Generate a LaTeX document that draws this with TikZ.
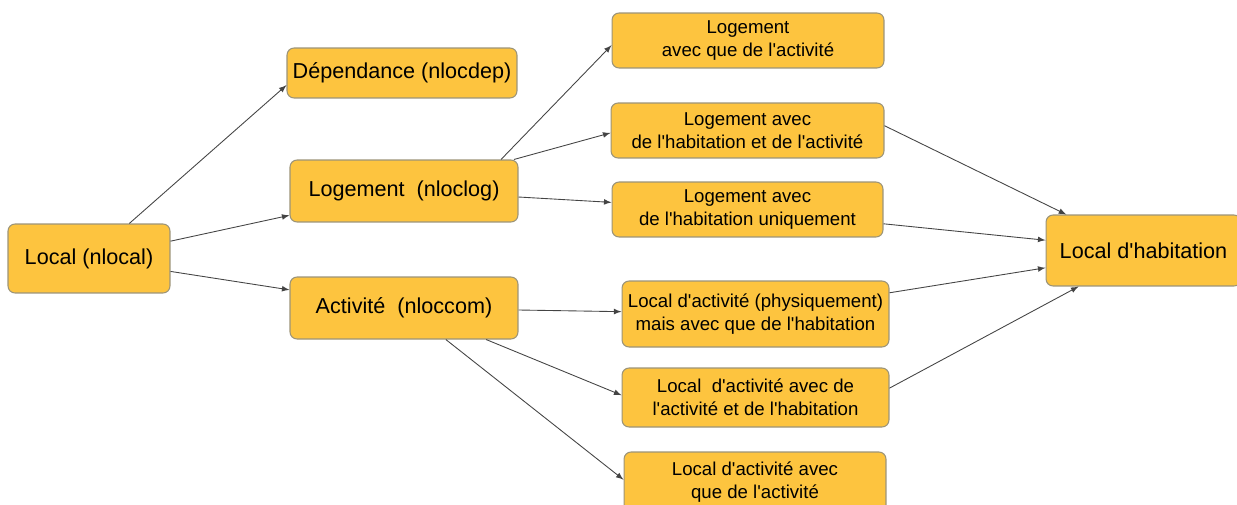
\documentclass[tikz,border=0pt]{standalone}
\usepackage{fontspec}
\setmainfont{Liberation Sans}[Ligatures=TeXOff]
\definecolor{boxfill}{HTML}{FDC43F}
\definecolor{boxline}{HTML}{9C9478}
\definecolor{arrowgray}{HTML}{444444}
\tikzset{
  bigbox/.style={draw=boxline, fill=boxfill, rounded corners=4pt, line width=0.6pt,
    font=\fontsize{12.3}{15}\selectfont, inner sep=0pt, align=center},
  smallbox/.style={bigbox, font=\fontsize{10.6}{13.2}\selectfont},
  link/.style={->, draw=arrowgray, line width=0.5pt}
}
\begin{document}
\begin{tikzpicture}[x=0.02cm, y=-0.02cm, >=latex]
\useasboundingbox (0,0) rectangle (1237,504);
\node[bigbox, minimum width=3.24cm, minimum height=1.38cm] (local) at (89,258.5) {Local (nlocal)};
\node[bigbox, minimum width=4.6cm, minimum height=1cm] (dep) at (402,73) {Dépendance (nlocdep)};
\node[bigbox, minimum width=4.56cm, minimum height=1.24cm] (log) at (404,191) {Logement~ (nloclog)};
\node[bigbox, minimum width=4.56cm, minimum height=1.24cm] (com) at (404,308) {Activité~ (nloccom)};

\node[smallbox, minimum width=5.44cm, minimum height=1.1cm] (lqa) at (748,40.5) {Logement\\avec que de l'activité};
\node[smallbox, minimum width=5.46cm, minimum height=1.1cm] (lha) at (747.5,130.5) {Logement avec\\de l'habitation et de l'activité};
\node[smallbox, minimum width=5.42cm, minimum height=1.1cm] (lhu) at (747.5,209.5) {Logement avec\\de l'habitation uniquement};
\node[smallbox, minimum width=5.34cm, minimum height=1.32cm] (phys) at (755.5,314) {Local d'activité (physiquement)\\mais avec que de l'habitation};
\node[smallbox, minimum width=5.34cm, minimum height=1.18cm] (ah) at (755.5,397.5) {Local~ d'activité avec de\\l'activité et de l'habitation};
\node[smallbox, minimum width=5.24cm, minimum height=1.2cm] (qa) at (755,482) {Local d'activité avec\\que de l'activité};

\node[bigbox, minimum width=3.9cm, minimum height=1.42cm] (hab) at (1143.5,250.5) {Local d'habitation};

\draw[link] (local.41) -- (dep.186);
\draw[link] (local.12) -- (log.192);
\draw[link] (local.-9) -- (com.171);

\draw[link] (log.18) -- (lqa.182);
\draw[link] (log.16) -- (lha.181);
\draw[link] (log.-3) -- (lhu.177);

\draw[link] (com.-1) -- (phys.179);
\draw[link] (com.-21) -- (ah.179);
\draw[link] (com.-37) -- (qa.179);

\draw[link] (lha.2) -- (hab.155);
\draw[link] (lhu.-6) -- (hab.174);
\draw[link] (phys.9) -- (hab.190);
\draw[link] (ah.4) -- (hab.209);
\end{tikzpicture}
\end{document}
